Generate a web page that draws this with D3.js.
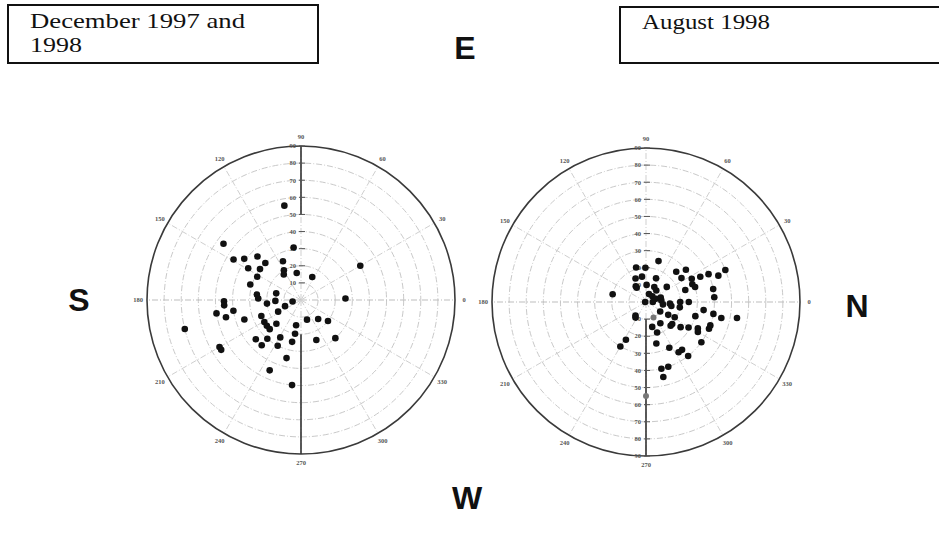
<!DOCTYPE html>
<html>
<head>
<meta charset="utf-8">
<script src="https://cdn.jsdelivr.net/npm/d3@7"></script>
<style>
  body { margin: 0; background: #fff; }
  svg { display: block; }
</style>
</head>
<body>
<div id="chart"></div>
<script>
// December 1997 and 1998 -- angle (deg, 0 = right, counter-clockwise) and radius
var decAngle = [100, 144, 149, 144, 135, 134, 115, 98, 149, 143, 120, 124, 99, 64, 30, 152, 163, 165, 173, 178,
                182, 190, 186, 181, 184, 201, 2, 189, 189, 207, 193, 199, 202, 211, 224, 217, 223, 287, 312, 322,
                259, 260, 194, 210, 212, 221, 229, 229, 241, 243, 258, 291, 312, 256, 246, 264];
var decRadius = [56, 56, 46, 41, 36, 30, 25, 31, 36, 30, 20, 18, 16, 15, 40, 29, 31, 15, 26, 25,
                 15, 5, 20, 45, 45, 10, 26, 40, 50, 15, 45, 35, 25, 25, 20, 25, 25, 12, 15, 20,
                 15, 20, 70, 55, 55, 35, 30, 35, 25, 30, 25, 25, 30, 35, 45, 50];

// August 1998
var augAngle = [73, 106, 91, 114, 99, 123, 123, 88, 67, 45, 39, 34, 27, 25, 24, 20, 22, 36, 61, 48,
                17, 21, 17, 11, 4, 167, 70, 42, 18, 17, 6, 352, 180, 0, 356, 351, 0, 351, 0, 326,
                330, 332, 320, 316, 324, 344, 352, 350, 348, 350, 232, 236, 304, 284, 329, 333, 330, 337, 340, 290,
                324, 284, 240, 242, 297, 303, 307, 308, 283, 289, 283];
var augRadius = [25, 21, 20, 15, 15, 11, 10, 10, 15, 25, 30, 25, 30, 35, 40, 45, 50, 15, 10, 9,
                 24, 29, 30, 40, 40, 20, 5, 5, 6, 9, 9, 10, 0.5, 4, 14, 15, 20, 20, 25, 10,
                 15, 19, 20, 20, 25, 30, 34, 40, 45, 54, 10, 11, 15, 15, 29, 34, 35, 40, 40, 19,
                 40, 25, 30, 25, 30, 35, 35, 40, 40, 40, 45];
// faint (grey) marks in August
var augFaintAngle = [296, 270];
var augFaintRadius = [10, 55];

var gridValues = [10, 20, 30, 40, 50, 60, 70, 80];
var radialTicks = [10, 20, 30, 40, 50, 60, 70, 80, 90];
var angleTicks = [0, 30, 60, 90, 120, 150, 180, 210, 240, 270, 300, 330];

var width = 939, height = 535;

var svg = d3.select("#chart").append("svg")
    .attr("width", width)
    .attr("height", height);

svg.append("rect").attr("width", width).attr("height", height).attr("fill", "#fff");

// one polar panel
function drawPolar(opts) {
    var g = svg.append("g").attr("transform", "translate(" + opts.cx + "," + opts.cy + ")");
    var r = d3.scaleLinear().domain([0, 90]).range([0, opts.R]);
    var rad = d => d * Math.PI / 180;
    var px = (a, v) => r(v) * Math.cos(rad(a));
    var py = (a, v) => -r(v) * Math.sin(rad(a));

    // rings
    g.selectAll(".ring").data(gridValues).enter().append("circle")
        .attr("r", d => r(d))
        .attr("fill", "none")
        .attr("stroke", "#c9c9c9")
        .attr("stroke-width", 1)
        .attr("stroke-dasharray", "6,2,1,2");

    // spokes
    g.selectAll(".spoke").data(angleTicks).enter().append("line")
        .attr("x1", 0).attr("y1", 0)
        .attr("x2", d => px(d, 90)).attr("y2", d => py(d, 90))
        .attr("stroke", d => d % 180 === 0 ? "#bdbdbd" : "#cfcfcf")
        .attr("stroke-width", 1)
        .attr("stroke-dasharray", "6,2,1,2");

    // outer circle
    g.append("circle").attr("r", r(90))
        .attr("fill", "none").attr("stroke", "#3a3a3a").attr("stroke-width", 1.6);

    // solid bits of the radial axis
    opts.axisSegments.forEach(s => {
        g.append("line")
            .attr("x1", px(s.angle, s.from)).attr("y1", py(s.angle, s.from))
            .attr("x2", px(s.angle, s.to)).attr("y2", py(s.angle, s.to))
            .attr("stroke", "#333").attr("stroke-width", 1.6);
    });

    // radial ticks + labels
    opts.labelAngles.forEach(a => {
        g.selectAll(null).data(radialTicks).enter().append("line")
            .attr("x1", -2).attr("x2", 4)
            .attr("y1", d => py(a, d)).attr("y2", d => py(a, d))
            .attr("stroke", "#555").attr("stroke-width", 1);
        g.selectAll(null).data(radialTicks).enter().append("text")
            .attr("x", -5)
            .attr("y", d => py(a, d))
            .attr("dy", "0.35em")
            .attr("text-anchor", "end")
            .attr("font-family", "Liberation Serif, serif")
            .attr("font-size", 6.5)
            .attr("font-weight", "bold")
            .attr("fill", "#555")
            .text(d => d);
    });

    // angle labels
    g.selectAll(".alab").data(angleTicks).enter().append("text")
        .attr("x", d => px(d, 90) + 9 * Math.cos(rad(d)))
        .attr("y", d => py(d, 90) - 9 * Math.sin(rad(d)))
        .attr("dy", "0.35em")
        .attr("text-anchor", "middle")
        .attr("font-family", "Liberation Serif, serif")
        .attr("font-size", 6.5)
        .attr("font-weight", "bold")
        .attr("fill", "#555")
        .text(d => d);

    // points
    g.selectAll(".faint").data(d3.range(opts.faintAngle.length)).enter().append("circle")
        .attr("cx", i => px(opts.faintAngle[i], opts.faintRadius[i]))
        .attr("cy", i => py(opts.faintAngle[i], opts.faintRadius[i]))
        .attr("r", 3)
        .attr("fill", "#777");

    g.selectAll(".pt").data(d3.range(opts.angle.length)).enter().append("circle")
        .attr("cx", i => px(opts.angle[i], opts.radius[i]))
        .attr("cy", i => py(opts.angle[i], opts.radius[i]))
        .attr("r", 3.3)
        .attr("fill", "#111");
}

drawPolar({
    cx: 301, cy: 300, R: 154,
    angle: decAngle, radius: decRadius,
    faintAngle: [], faintRadius: [],
    axisSegments: [{angle: 90, from: 50, to: 90}, {angle: 270, from: 20, to: 90}],
    labelAngles: [90]
});

drawPolar({
    cx: 646, cy: 302, R: 154,
    angle: augAngle, radius: augRadius,
    faintAngle: augFaintAngle, faintRadius: augFaintRadius,
    axisSegments: [{angle: 270, from: 10, to: 90}],
    labelAngles: [90, 270]
});

// title boxes
function titleBox(x, y, w, h, lines) {
    svg.append("rect")
        .attr("x", x).attr("y", y).attr("width", w).attr("height", h)
        .attr("fill", "none").attr("stroke", "#111").attr("stroke-width", 2);
    lines.forEach(l => {
        svg.append("text")
            .attr("x", l.x).attr("y", l.y)
            .attr("font-family", "Liberation Serif, 'Times New Roman', serif")
            .attr("font-size", 22)
            .attr("textLength", l.len)
            .attr("lengthAdjust", "spacingAndGlyphs")
            .attr("fill", "#111")
            .text(l.text);
    });
}

titleBox(8, 5, 310, 58, [
    {text: "December 1997 and", x: 30, y: 28, len: 215},
    {text: "1998", x: 30, y: 52, len: 52}
]);
titleBox(620, 7, 330, 56, [
    {text: "August 1998", x: 642, y: 29, len: 128}
]);

// compass letters
var compass = [
    {t: "E", x: 465, y: 59},
    {t: "S", x: 79, y: 311},
    {t: "N", x: 857, y: 317},
    {t: "W", x: 467, y: 509}
];
svg.selectAll(".compass").data(compass).enter().append("text")
    .attr("x", d => d.x).attr("y", d => d.y)
    .attr("text-anchor", "middle")
    .attr("font-family", "Liberation Sans, Arial, sans-serif")
    .attr("font-weight", "bold")
    .attr("font-size", 32)
    .attr("fill", "#111")
    .text(d => d.t);
</script>
</body>
</html>
